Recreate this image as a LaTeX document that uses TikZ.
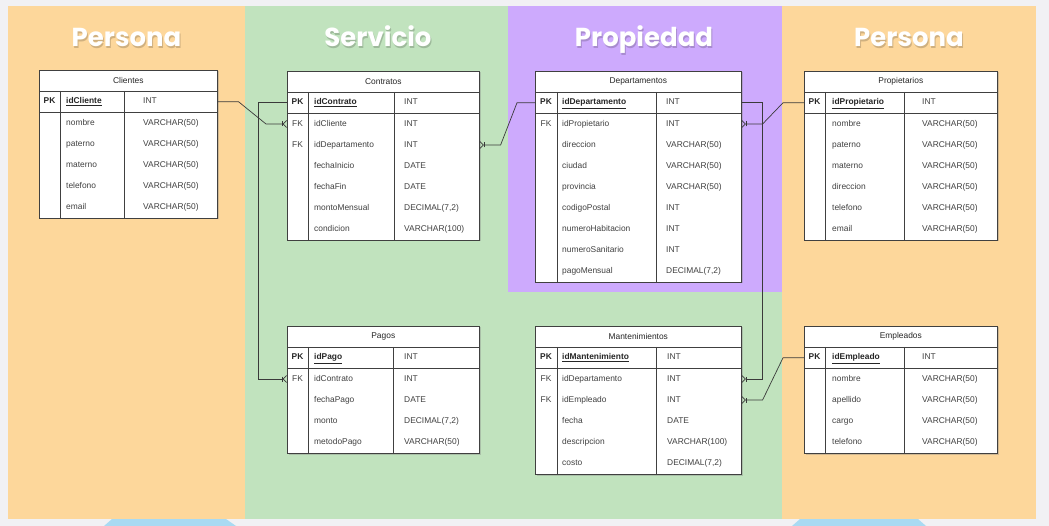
\documentclass[tikz,border=0pt]{standalone}
\usepackage{fontspec}
\setmainfont{Liberation Sans}
\newfontfamily\titlefont{Poppins}
\usepackage{tikz}
\usetikzlibrary{arrows.meta,shadows}

\definecolor{slidebg}{HTML}{F1F1F4}
\definecolor{zonepersona}{HTML}{FDD79B}
\definecolor{zoneservicio}{HTML}{C1E3BE}
\definecolor{zonepropiedad}{HTML}{CDAAFD}
\definecolor{slideblue}{HTML}{A9DAF2}
\definecolor{relline}{HTML}{3A3A3A}

\tikzset{
  zonetitle/.style={font=\titlefont\bfseries\fontsize{26}{30}\selectfont, text=white, inner sep=0pt, anchor=base},
  zoneshade/.style={font=\titlefont\bfseries\fontsize{26}{30}\selectfont, text=black, opacity=0.18, inner sep=0pt, anchor=base},
  tablebox/.style={draw=black!75, fill=white, line width=0.6pt, anchor=north west,
    drop shadow={shadow xshift=1.2pt, shadow yshift=-1.2pt, opacity=0.35}},
  headrow/.style={draw=black!75, line width=0.6pt, anchor=north west, minimum height=21pt,
    font=\fontsize{8.4}{10}\selectfont, text=black!85, inner sep=0pt},
  keyrow/.style={draw=black!75, line width=0.6pt, anchor=north west, minimum height=21pt, inner sep=0pt},
  colline/.style={draw=black!75, line width=0.6pt},
  keytag/.style={font=\bfseries\fontsize{8.4}{10}\selectfont, text=black!85, inner sep=0pt,
    text height=6.2pt, text depth=1.8pt},
  fktag/.style={font=\fontsize{8.4}{10}\selectfont, text=black!75, inner sep=0pt,
    text height=6.2pt, text depth=1.8pt},
  field/.style={anchor=west, font=\fontsize{8.4}{10}\selectfont, text=black!75, inner sep=0pt,
    text height=6.2pt, text depth=1.8pt},
  keyfield/.style={anchor=west, font=\bfseries\fontsize{8.4}{10}\selectfont, text=black!85, inner sep=0pt,
    text height=6.2pt, text depth=1.8pt},
  relation/.style={draw=relline, line width=0.7pt,
    -{Bar[width=5pt,line width=0.7pt] . Straight Barb[reversed,length=3.5pt,width=7pt,line width=0.7pt]}}
}

\begin{document}
\begin{tikzpicture}[x=1pt, y=-1pt]
    \fill[slidebg] (0,0) rectangle (1049,526);
    \useasboundingbox (0,0) rectangle (1049,526);
    \fill[slideblue] (104,526) -- (112,519) -- (226,519) -- (236,526) -- cycle;
    \fill[slideblue] (792,526) -- (800,519) -- (918,519) -- (926,526) -- cycle;

    % zonas
    \fill[zonepersona] (8,6) rectangle (245,519);
    \fill[zoneservicio] (245,6) rectangle (782,519);
    \fill[zonepropiedad] (508,6) rectangle (782,292);
    \fill[zonepersona] (782,6) rectangle (1036,519);

    \node[zoneshade] (t1s) at (127.5,48.5) {Persona};
    \node[zonetitle] (t1) at (126.5,47) {Persona};
    \node[zoneshade] (t2s) at (379,48.5) {Servicio};
    \node[zonetitle] (t2) at (378,47) {Servicio};
    \node[zoneshade] (t3s) at (645,48.5) {Propiedad};
    \node[zonetitle] (t3) at (644,47) {Propiedad};
    \node[zoneshade] (t4s) at (910,48.5) {Persona};
    \node[zonetitle] (t4) at (909,47) {Persona};

    % Clientes
    \node[tablebox, minimum width=178pt, minimum height=148pt] (cli) at (39,70) {};
    \node[headrow, minimum width=178pt] (cliH) at (39,70) {Clientes};
    \node[keyrow, minimum width=178pt] (cliPK) at (39,91) {};
    \draw[colline] ([xshift=21pt]cliPK.north west) -- ([xshift=21pt]cli.south west);
    \draw[colline] ([xshift=85pt]cliPK.north west) -- ([xshift=85pt]cli.south west);
    \node[keytag] (cliK) at (49.5,101.5) {PK};
    \node[keyfield] (cliN0) at (66,101.5) {\underline{idCliente}};
    \node[field] (cliT0) at (143,101.5) {INT};
    \node[field] (cliN1) at (66,123) {nombre};
    \node[field] (cliT1) at (143,123) {VARCHAR(50)};
    \node[field] (cliN2) at (66,144) {paterno};
    \node[field] (cliT2) at (143,144) {VARCHAR(50)};
    \node[field] (cliN3) at (66,165) {materno};
    \node[field] (cliT3) at (143,165) {VARCHAR(50)};
    \node[field] (cliN4) at (66,186) {telefono};
    \node[field] (cliT4) at (143,186) {VARCHAR(50)};
    \node[field] (cliN5) at (66,207) {email};
    \node[field] (cliT5) at (143,207) {VARCHAR(50)};

    % Contratos
    \node[tablebox, minimum width=192pt, minimum height=169pt] (con) at (287,71) {};
    \node[headrow, minimum width=192pt] (conH) at (287,71) {Contratos};
    \node[keyrow, minimum width=192pt] (conPK) at (287,92) {};
    \draw[colline] ([xshift=21pt]conPK.north west) -- ([xshift=21pt]con.south west);
    \draw[colline] ([xshift=107pt]conPK.north west) -- ([xshift=107pt]con.south west);
    \node[keytag] (conK) at (297.5,102.5) {PK};
    \node[keyfield] (conN0) at (314,102.5) {\underline{idContrato}};
    \node[field] (conT0) at (404,102.5) {INT};
    \node[fktag] (conK1) at (297.5,124) {FK};
    \node[field] (conN1) at (314,124) {idCliente};
    \node[field] (conT1) at (404,124) {INT};
    \node[fktag] (conK2) at (297.5,145) {FK};
    \node[field] (conN2) at (314,145) {idDepartamento};
    \node[field] (conT2) at (404,145) {INT};
    \node[field] (conN3) at (314,166) {fechaInicio};
    \node[field] (conT3) at (404,166) {DATE};
    \node[field] (conN4) at (314,187) {fechaFin};
    \node[field] (conT4) at (404,187) {DATE};
    \node[field] (conN5) at (314,208) {montoMensual};
    \node[field] (conT5) at (404,208) {DECIMAL(7,2)};
    \node[field] (conN6) at (314,229) {condicion};
    \node[field] (conT6) at (404,229) {VARCHAR(100)};

    % Departamentos
    \node[tablebox, minimum width=206pt, minimum height=211pt] (dep) at (535,71) {};
    \node[headrow, minimum width=206pt] (depH) at (535,71) {Departamentos};
    \node[keyrow, minimum width=206pt] (depPK) at (535,92) {};
    \draw[colline] ([xshift=22pt]depPK.north west) -- ([xshift=22pt]dep.south west);
    \draw[colline] ([xshift=121pt]depPK.north west) -- ([xshift=121pt]dep.south west);
    \node[keytag] (depK) at (546,102.5) {PK};
    \node[keyfield] (depN0) at (562,102.5) {\underline{idDepartamento}};
    \node[field] (depT0) at (666,102.5) {INT};
    \node[fktag] (depK1) at (546,124) {FK};
    \node[field] (depN1) at (562,124) {idPropietario};
    \node[field] (depT1) at (666,124) {INT};
    \node[field] (depN2) at (562,145) {direccion};
    \node[field] (depT2) at (666,145) {VARCHAR(50)};
    \node[field] (depN3) at (562,166) {ciudad};
    \node[field] (depT3) at (666,166) {VARCHAR(50)};
    \node[field] (depN4) at (562,187) {provincia};
    \node[field] (depT4) at (666,187) {VARCHAR(50)};
    \node[field] (depN5) at (562,208) {codigoPostal};
    \node[field] (depT5) at (666,208) {INT};
    \node[field] (depN6) at (562,229) {numeroHabitacion};
    \node[field] (depT6) at (666,229) {INT};
    \node[field] (depN7) at (562,250) {numeroSanitario};
    \node[field] (depT7) at (666,250) {INT};
    \node[field] (depN8) at (562,271) {pagoMensual};
    \node[field] (depT8) at (666,271) {DECIMAL(7,2)};

    % Propietarios
    \node[tablebox, minimum width=193pt, minimum height=169pt] (pro) at (804,71) {};
    \node[headrow, minimum width=193pt] (proH) at (804,71) {Propietarios};
    \node[keyrow, minimum width=193pt] (proPK) at (804,92) {};
    \draw[colline] ([xshift=21pt]proPK.north west) -- ([xshift=21pt]pro.south west);
    \draw[colline] ([xshift=100pt]proPK.north west) -- ([xshift=100pt]pro.south west);
    \node[keytag] (proK) at (814.5,102.5) {PK};
    \node[keyfield] (proN0) at (832,102.5) {\underline{idPropietario}};
    \node[field] (proT0) at (922,102.5) {INT};
    \node[field] (proN1) at (832,124) {nombre};
    \node[field] (proT1) at (922,124) {VARCHAR(50)};
    \node[field] (proN2) at (832,145) {paterno};
    \node[field] (proT2) at (922,145) {VARCHAR(50)};
    \node[field] (proN3) at (832,166) {materno};
    \node[field] (proT3) at (922,166) {VARCHAR(50)};
    \node[field] (proN4) at (832,187) {direccion};
    \node[field] (proT4) at (922,187) {VARCHAR(50)};
    \node[field] (proN5) at (832,208) {telefono};
    \node[field] (proT5) at (922,208) {VARCHAR(50)};
    \node[field] (proN6) at (832,229) {email};
    \node[field] (proT6) at (922,229) {VARCHAR(50)};

    % Pagos
    \node[tablebox, minimum width=192pt, minimum height=127pt] (pag) at (287,326) {};
    \node[headrow, minimum width=192pt] (pagH) at (287,326) {Pagos};
    \node[keyrow, minimum width=192pt] (pagPK) at (287,347) {};
    \draw[colline] ([xshift=21pt]pagPK.north west) -- ([xshift=21pt]pag.south west);
    \draw[colline] ([xshift=106pt]pagPK.north west) -- ([xshift=106pt]pag.south west);
    \node[keytag] (pagK) at (297.5,357.5) {PK};
    \node[keyfield] (pagN0) at (314,357.5) {\underline{idPago}};
    \node[field] (pagT0) at (404,357.5) {INT};
    \node[fktag] (pagK1) at (297.5,379) {FK};
    \node[field] (pagN1) at (314,379) {idContrato};
    \node[field] (pagT1) at (404,379) {INT};
    \node[field] (pagN2) at (314,400) {fechaPago};
    \node[field] (pagT2) at (404,400) {DATE};
    \node[field] (pagN3) at (314,421) {monto};
    \node[field] (pagT3) at (404,421) {DECIMAL(7,2)};
    \node[field] (pagN4) at (314,442) {metodoPago};
    \node[field] (pagT4) at (404,442) {VARCHAR(50)};

    % Mantenimientos
    \node[tablebox, minimum width=206pt, minimum height=148pt] (man) at (535,326) {};
    \node[headrow, minimum width=206pt] (manH) at (535,326) {Mantenimientos};
    \node[keyrow, minimum width=206pt] (manPK) at (535,347) {};
    \draw[colline] ([xshift=22pt]manPK.north west) -- ([xshift=22pt]man.south west);
    \draw[colline] ([xshift=121pt]manPK.north west) -- ([xshift=121pt]man.south west);
    \node[keytag] (manK) at (546,357.5) {PK};
    \node[keyfield] (manN0) at (562,357.5) {\underline{idMantenimiento}};
    \node[field] (manT0) at (667,357.5) {INT};
    \node[fktag] (manK1) at (546,379) {FK};
    \node[field] (manN1) at (562,379) {idDepartamento};
    \node[field] (manT1) at (667,379) {INT};
    \node[fktag] (manK2) at (546,400) {FK};
    \node[field] (manN2) at (562,400) {idEmpleado};
    \node[field] (manT2) at (667,400) {INT};
    \node[field] (manN3) at (562,421) {fecha};
    \node[field] (manT3) at (667,421) {DATE};
    \node[field] (manN4) at (562,442) {descripcion};
    \node[field] (manT4) at (667,442) {VARCHAR(100)};
    \node[field] (manN5) at (562,463) {costo};
    \node[field] (manT5) at (667,463) {DECIMAL(7,2)};

    % Empleados
    \node[tablebox, minimum width=193pt, minimum height=127pt] (emp) at (804,326) {};
    \node[headrow, minimum width=193pt] (empH) at (804,326) {Empleados};
    \node[keyrow, minimum width=193pt] (empPK) at (804,347) {};
    \draw[colline] ([xshift=21pt]empPK.north west) -- ([xshift=21pt]emp.south west);
    \draw[colline] ([xshift=100pt]empPK.north west) -- ([xshift=100pt]emp.south west);
    \node[keytag] (empK) at (814.5,357.5) {PK};
    \node[keyfield] (empN0) at (832,357.5) {\underline{idEmpleado}};
    \node[field] (empT0) at (922,357.5) {INT};
    \node[field] (empN1) at (832,379) {nombre};
    \node[field] (empT1) at (922,379) {VARCHAR(50)};
    \node[field] (empN2) at (832,400) {apellido};
    \node[field] (empT2) at (922,400) {VARCHAR(50)};
    \node[field] (empN3) at (832,421) {cargo};
    \node[field] (empT3) at (922,421) {VARCHAR(50)};
    \node[field] (empN4) at (832,442) {telefono};
    \node[field] (empT4) at (922,442) {VARCHAR(50)};

    % relaciones
    \draw[relation] (cliPK.east) -- ++(21,0) -- ([xshift=-21pt]con.west |- conK1) -- (con.west |- conK1);
    \draw[relation] (conPK.west) -- ++(-29,0) |- (pag.west |- pagK1);
    \draw[relation] (depPK.west) -- ++(-18,0) -- ([xshift=21pt]con.east |- conK2) -- (con.east |- conK2);
    \draw[relation] (proPK.west) -- ++(-21,0) -- ([xshift=21pt]dep.east |- depK1) -- (dep.east |- depK1);
    \draw[relation] (depPK.east) -- ++(21,0) |- (man.east |- manK1);
    \draw[relation] (empPK.west) -- ++(-21,0) -- ([xshift=21pt]man.east |- manK2) -- (man.east |- manK2);
\end{tikzpicture}
\end{document}
